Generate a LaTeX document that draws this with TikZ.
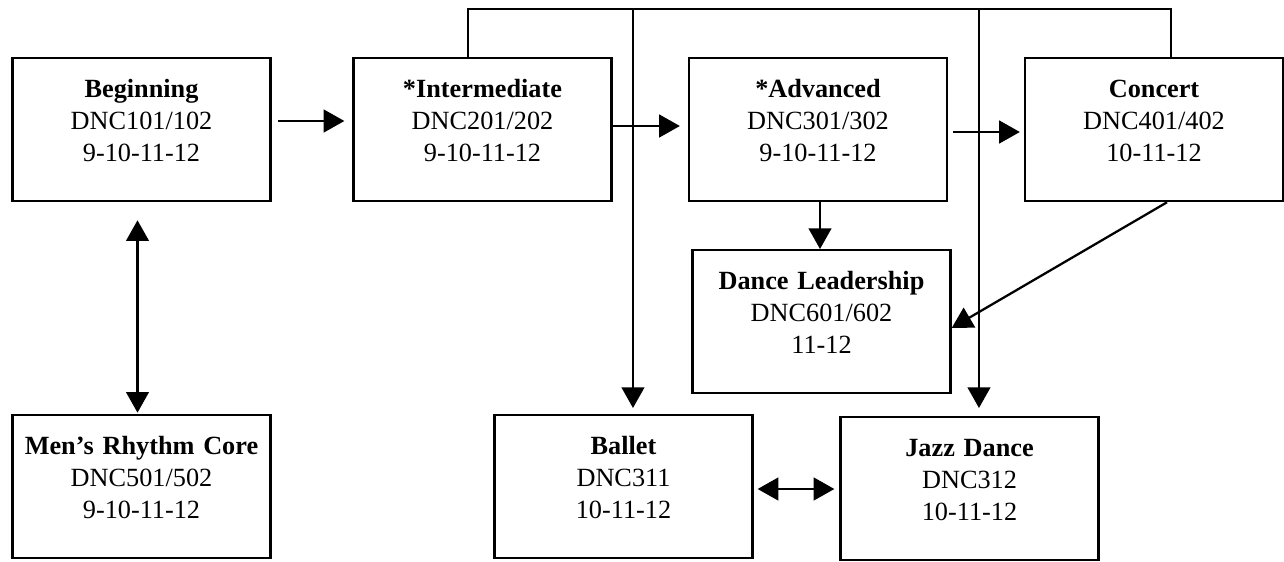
\documentclass[tikz,border=0pt]{standalone}
\usepackage{fontspec}
\setmainfont{Liberation Serif}
\usetikzlibrary{arrows.meta}

\begin{document}
\begin{tikzpicture}[x=0.75pt,y=-0.75pt,
  course/.style={draw,line width=1.7pt,text width=187.5pt,align=center,
    inner xsep=3pt,inner ysep=0pt,text height=29.25pt,text depth=78pt,
    anchor=north,font=\fontsize{19.7}{24.3}\selectfont},
  link/.style={line width=1.7pt},
  arr/.style={link,-{Triangle[length=15.5pt,width=17pt]}},
  darr/.style={link,{Triangle[length=15.5pt,width=17pt]}-{Triangle[length=15.5pt,width=17pt]}}]
 \useasboundingbox (0,0) rectangle (1284,561);
 \node[course] (beg) at (141.5,57) {\textbf{Beginning}\\DNC101/102\\9-10-11-12};
 \node[course] (int) at (482.5,57) {\textbf{*Intermediate}\\DNC201/202\\9-10-11-12};
 \node[course] (adv) at (818,57) {\textbf{*Advanced}\\DNC301/302\\9-10-11-12};
 \node[course] (con) at (1154,57) {\textbf{Concert}\\DNC401/402\\10-11-12};
 \node[course] (lead) at (821.5,249) {\textbf{Dance Leadership}\\DNC601/602\\11-12};
 \node[course] (men) at (141.5,414) {\textbf{Men’s Rhythm Core}\\DNC501/502\\9-10-11-12};
 \node[course] (bal) at (623.5,414) {\textbf{Ballet}\\DNC311\\10-11-12};
 \node[course] (jaz) at (969.5,416) {\textbf{Jazz Dance}\\DNC312\\10-11-12};
 % line over the top row
 \coordinate (bus) at (0,9);
 \coordinate (iu) at ([xshift=-10.9pt]int.north);
 \coordinate (cu) at ([xshift=12.75pt]con.north);
 \coordinate (bt) at ([xshift=7.1pt]bal.north);
 \coordinate (jt) at ([xshift=7.1pt]jaz.north);
 \draw[link] (iu) -- (iu |- bus) -- (cu |- bus) -- (cu);
 \draw[arr,shorten >=4.5pt] (bt |- bus) -- (bt);
 \draw[arr,shorten >=6pt] (jt |- bus) -- (jt);
 % top row
 \draw[arr,shorten <=4.5pt,shorten >=6pt] ([yshift=-48pt]beg.north east) -- ([yshift=-48pt]int.north west);
 \draw[arr,shorten >=6pt] ([yshift=-51.75pt]int.north east) -- ([yshift=-51.75pt]adv.north west);
 \draw[arr,shorten <=3.75pt,shorten >=3pt] ([yshift=-56.25pt]adv.north east) -- ([yshift=-56.25pt]con.north west);
 \draw[arr] ([xshift=1.5pt]adv.south) -- ([xshift=1.5pt]adv.south |- lead.north);
 \draw[arr] ([xshift=9.75pt]con.south) -- ([yshift=-59.25pt]lead.north east);
 % both ways
 \draw[darr,shorten <=13.5pt,shorten >=1pt] ([xshift=-3pt]beg.south) -- ([xshift=-3pt]men.north);
 \draw[darr,shorten <=3pt,shorten >=3.75pt] ([yshift=-56.25pt]bal.north east) -- ([yshift=-54.75pt]jaz.north west);
\end{tikzpicture}
\end{document}
